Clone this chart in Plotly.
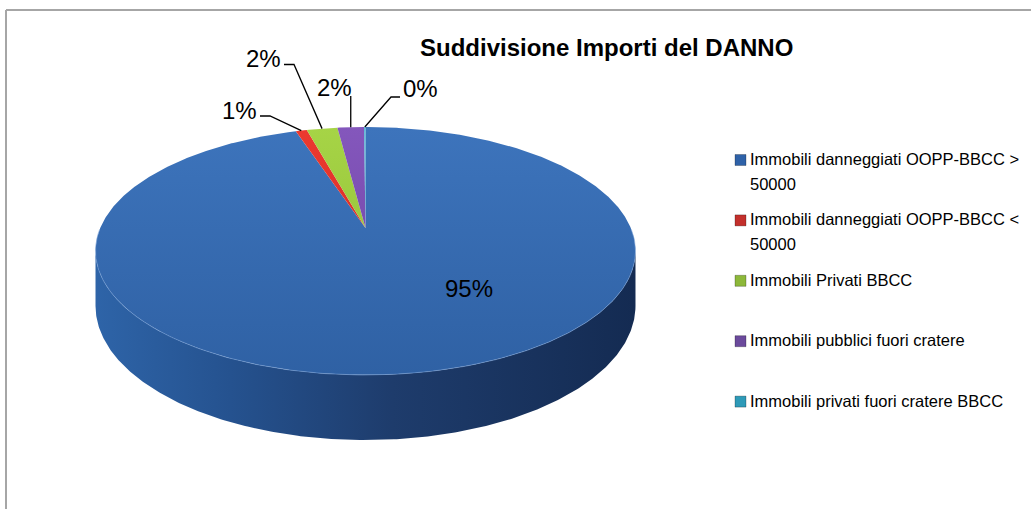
import textwrap
import numpy as np
import plotly.graph_objects as go

# ---------------- data ----------------
categories = [
    "Immobili danneggiati OOPP-BBCC > 50000",
    "Immobili danneggiati OOPP-BBCC < 50000",
    "Immobili Privati BBCC",
    "Immobili pubblici fuori cratere",
    "Immobili privati fuori cratere BBCC",
]
shares = [95.0, 0.8, 2.2, 1.9, 0.1]
title_text = "Suddivisione Importi del DANNO"

# ---------------- styles / layout constants ----------------
top_colors = ["#3A6FB6", "#E2322B", "#9DCB3C", "#7A4EB2", "#3FA9C9"]
top_grad = [
    [[0, "#3D74BC"], [1, "#2F61A4"]],
    [[0, "#EC3A30"], [1, "#C8231E"]],
    [[0, "#A6D446"], [1, "#8CB934"]],
    [[0, "#8457BC"], [1, "#6A3FA0"]],
    [[0, "#4BB3D2"], [1, "#2F95B5"]],
]
side_grad = [
    [[0, "#2E64A8"], [0.25, "#25528F"], [0.55, "#1E3C6C"], [1, "#142B52"]],
    [[0, "#B02020"], [1, "#701010"]],
    [[0, "#7FA52E"], [1, "#4F6A18"]],
    [[0, "#603C8C"], [1, "#3C2258"]],
    [[0, "#2F8FAE"], [1, "#1B5C70"]],
]
legend_colors = ["#2F62A8", "#C3302C", "#8DB83A", "#6B4A9C", "#2E9AB8"]

FONT = "'Liberation Sans', Arial, sans-serif"

# pseudo-3D projection of the pie (perspective ellipse)
CX, CY0 = 365.5, 228.0
GAMMA, BETA, P = 265.3, 77.44, 0.1855
DEPTH = 53.0


def proj(theta_deg, r=1.0, drop=0.0):
    t = np.radians(theta_deg)
    u = r * np.sin(t)
    v = r * np.cos(t)
    w = 1 + P * v
    return CX + GAMMA * u / w, (CY0 - BETA * v) / w + drop / w


fig = go.Figure()

total = float(sum(shares))
starts, ends = [], []
acc = 0.0
for s in shares:
    starts.append(acc / total * 360.0)
    acc += s
    ends.append(acc / total * 360.0)

# visible front arc of the cylinder side
sil = np.degrees(np.arccos(-P))
vis_a, vis_b = sil, 360.0 - sil
x_left = CX - GAMMA / np.sqrt(1 - P * P)
x_right = CX + GAMMA / np.sqrt(1 - P * P)

# --- side walls ---
for i, (a, b) in enumerate(zip(starts, ends)):
    lo, hi = max(a, vis_a), min(b, vis_b)
    if hi <= lo:
        continue
    th = np.linspace(lo, hi, max(3, int((hi - lo) * 2)))
    xt, yt = proj(th)
    xb, yb = proj(th[::-1], drop=DEPTH)
    fig.add_trace(go.Scatter(
        x=np.concatenate([xt, xb, xt[:1]]), y=np.concatenate([yt, yb, yt[:1]]),
        mode="lines", fill="toself", line=dict(width=0),
        fillcolor=side_grad[i][0][1],
        fillgradient=dict(type="horizontal", colorscale=side_grad[i],
                          start=x_left, stop=x_right),
        hoverinfo="skip", showlegend=False))

# --- top faces ---
for i, (a, b) in enumerate(zip(starts, ends)):
    th = np.linspace(a, b, max(3, int((b - a) * 2)))
    xa, ya = proj(th)
    cx, cy = proj(0.0, r=0.0)
    fig.add_trace(go.Scatter(
        x=np.concatenate([[cx], xa, [cx]]), y=np.concatenate([[cy], ya, [cy]]),
        mode="lines", fill="toself", line=dict(width=0),
        fillcolor=top_colors[i],
        fillgradient=dict(type="vertical", colorscale=top_grad[i],
                          start=proj(0.0)[1], stop=proj(180.0)[1]),
        name=categories[i], hoverinfo="name", showlegend=False))

# light rim along front edge
th = np.linspace(vis_a - 10, vis_b + 10, 200)
xr, yr = proj(th)
fig.add_trace(go.Scatter(x=xr, y=yr, mode="lines",
                         line=dict(color="rgba(120,160,215,0.55)", width=1),
                         hoverinfo="skip", showlegend=False))

# --- percentage labels ---
label_pos = [(469, 288), (239.5, 110), (263.5, 58.5), (334, 87), (420.5, 88)]
label_side = [None, "l", "l", "b", "r"]
LFS = 24
for i, s in enumerate(shares):
    txt = f"{round(s / total * 100)}%"
    lx, ly = label_pos[i]
    fig.add_annotation(x=lx, y=ly, text=txt, showarrow=False,
                       xanchor="center", yanchor="middle",
                       font=dict(family=FONT, size=LFS, color="#000000"))
    side = label_side[i]
    if side is None:
        continue
    mid = (starts[i] + ends[i]) / 2.0
    ax, ay = proj(mid)
    hw = 16.5
    if side == "l":
        p0 = (lx + hw + 4, ly + 6)
        p1 = (p0[0] + 10, p0[1])
        pts = [p0, p1, (ax, ay)]
    elif side == "r":
        p0 = (lx - hw - 4, ly + 9)
        p1 = (p0[0] - 9, p0[1])
        pts = [p0, p1, (ax, ay)]
    else:
        pts = [(ax, ly + 9), (ax, ay)]
    fig.add_trace(go.Scatter(x=[p[0] for p in pts], y=[p[1] for p in pts],
                             mode="lines", line=dict(color="#000000", width=1.3),
                             hoverinfo="skip", showlegend=False))

# --- title ---
fig.add_annotation(x=606, y=47, text=f"<b>{title_text}</b>", showarrow=False,
                   xanchor="center", yanchor="middle",
                   font=dict(family=FONT, size=24, color="#000000"))

# --- legend (custom) ---
LEG_X, LEG_Y0, LEG_STEP, LINE_H = 748, 159, 60.4, 25
for i, name in enumerate(categories):
    y0 = LEG_Y0 + i * LEG_STEP
    lines = textwrap.wrap(name, width=36)
    for k, ln in enumerate(lines):
        fig.add_annotation(x=LEG_X, y=y0 + k * LINE_H, text=ln, showarrow=False,
                           xanchor="left", yanchor="middle",
                           font=dict(family=FONT, size=16.5, color="#000000"))
    fig.add_trace(go.Scatter(x=[740.5], y=[y0 + 1], mode="markers",
                             marker=dict(symbol="square", size=11,
                                         color=legend_colors[i],
                                         line=dict(color="rgba(0,0,0,0.25)", width=1)),
                             hoverinfo="skip", showlegend=False))

# chart border (top and left edges visible)
fig.add_shape(type="line", x0=6, y0=10, x1=1031, y1=10, xref="x", yref="y",
              line=dict(color="#A6A6A6", width=2))
fig.add_shape(type="line", x0=6, y0=10, x1=6, y1=509, xref="x", yref="y",
              line=dict(color="#A6A6A6", width=2))

fig.update_layout(
    width=1032, height=509,
    margin=dict(l=0, r=0, t=0, b=0),
    paper_bgcolor="white", plot_bgcolor="white",
    showlegend=False,
    xaxis=dict(range=[0, 1032], visible=False, fixedrange=True),
    yaxis=dict(range=[509, 0], visible=False, fixedrange=True),
)

fig.write_html("out.html", config={"displayModeBar": False},
               post_script="document.body.style.margin='0px';")
